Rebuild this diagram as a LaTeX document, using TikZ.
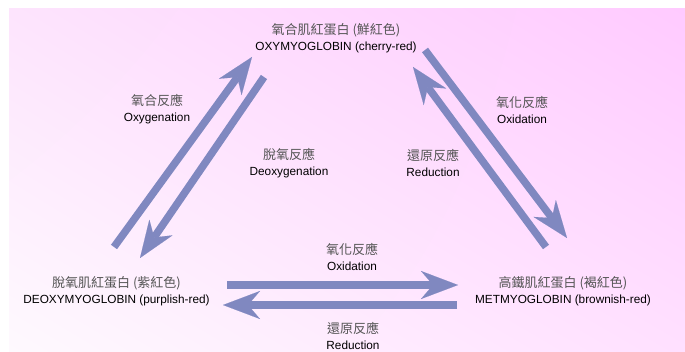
\documentclass[tikz,border=0pt]{standalone}
\usepackage{fontspec}
\setmainfont{Liberation Sans}
\newfontfamily\cjk{Noto Sans CJK TC}
\usetikzlibrary{arrows.meta,shadings}
\definecolor{arrowc}{RGB}{128,136,192}
\definecolor{cjkgray}{RGB}{85,85,85}
\definecolor{bgul}{RGB}{253,228,253}
\definecolor{bgur}{RGB}{255,202,255}
\definecolor{bgll}{RGB}{254,249,254}
\definecolor{bglr}{RGB}{255,224,255}
\newcommand\cjkfs{\cjk\fontsize{13pt}{16pt}\selectfont\color{cjkgray}}
\newcommand\gap{\hspace{3pt}}
\begin{document}
\begin{tikzpicture}[x=1pt,y=-1pt,
  lbl/.style={align=center,inner sep=0pt,text=black,font=\fontsize{11.8pt}{16pt}\selectfont},
  flow/.style={draw=arrowc,line width=7.5pt,-{Stealth[length=37pt,width=28pt,inset=12pt,line width=0.1pt]}}]
\useasboundingbox (0,0) rectangle (685,352);
\fill[white] (0,0) rectangle (685,352);
\shade[upper left=bgul, upper right=bgur, lower left=bgll, lower right=bglr] (9,9) rectangle (685,352);

% main species
\node[lbl] (oxy) at (336,38.5) {{\cjkfs 氧合肌紅蛋白\gap (鮮紅色)}\\OXYMYOGLOBIN (cherry-red)};
\node[lbl] (deoxy) at (116.5,291) {{\cjkfs 脫氧肌紅蛋白\gap (紫紅色)}\\DEOXYMYOGLOBIN (purplish-red)};
\node[lbl] (met) at (563,291.5) {{\cjkfs 高鐵肌紅蛋白\gap (褐紅色)}\\METMYOGLOBIN (brownish-red)};

% reaction labels
\node[lbl] (loxy) at (157,109.5) {{\cjkfs 氧合反應}\\Oxygenation};
\node[lbl] (ldeoxy) at (289,163) {{\cjkfs 脫氧反應}\\Deoxygenation};
\node[lbl] (lox1) at (522,109.5) {{\cjkfs 氧化反應}\\Oxidation};
\node[lbl] (lred1) at (433,163) {{\cjkfs 還原反應}\\Reduction};
\node[lbl] (lox2) at (352,256.5) {{\cjkfs 氧化反應}\\Oxidation};
\node[lbl] (lred2) at (353,335.5) {{\cjkfs 還原反應}\\Reduction};

% arrow end points
\coordinate (a1s) at (114,247);
\coordinate (a1e) at (252,57);
\coordinate (a2s) at (264,77);
\coordinate (a2e) at (140,258);
\coordinate (a3s) at (425,50);
\coordinate (a3e) at (567,238);
\coordinate (a4s) at (546,247);
\coordinate (a4e) at (413,67);
\coordinate (a5s) at (227,285);
\coordinate (a5e) at (458,285);
\coordinate (a6s) at (457,305);
\coordinate (a6e) at (223,305);

\draw[flow] (a1s) -- (a1e);
\draw[flow] (a2s) -- (a2e);
\draw[flow] (a3s) -- (a3e);
\draw[flow] (a4s) -- (a4e);
\draw[flow] (a5s) -- (a5e);
\draw[flow] (a6s) -- (a6e);
\end{tikzpicture}
\end{document}
